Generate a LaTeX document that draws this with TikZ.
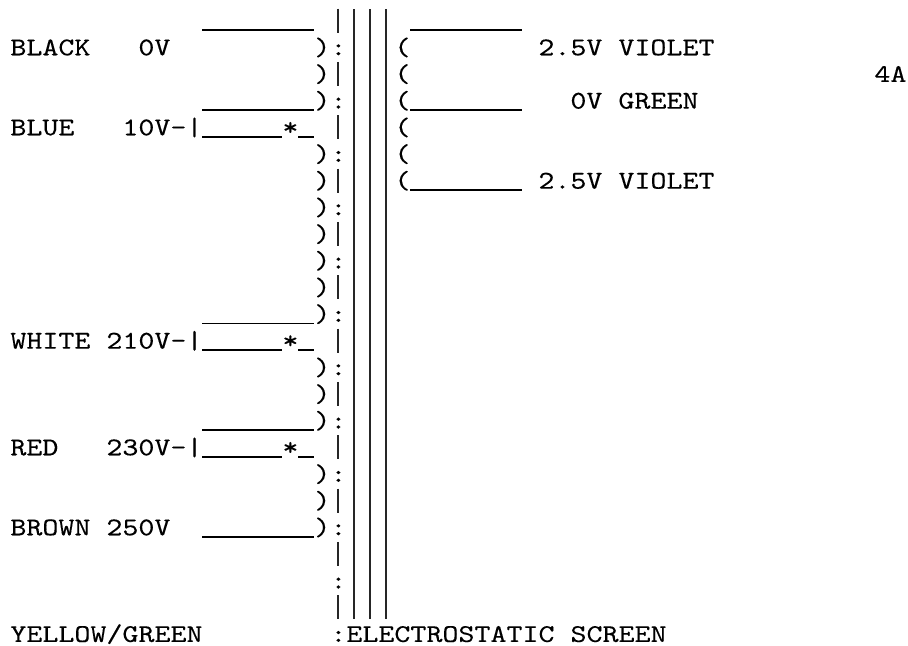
\documentclass[tikz,border=0pt]{standalone}
\usepackage{fontspec}
\newfontfamily\asciifont{lmmono10-regular.otf}[FakeStretch=1.194, FakeBold=0.2]

\begin{document}
\begin{tikzpicture}[x=8pt, y=-13.333pt,
		txt/.style={anchor=base west, inner sep=0pt, font=\asciifont\fontsize{12.77pt}{13.33pt}\selectfont},
		bar/.style={line width=0.75pt, black!85},
		lead/.style={line width=0.75pt, black}]
		\useasboundingbox (-0.625,-1.0725) rectangle (56.125,23.1495);
		% primary side
		\node[txt] (black) at (0,1) {BLACK};
		\node[txt] (black v) at (8,1) {0V};
		\node[txt] (blue) at (0,4) {BLUE};
		\node[txt] (blue v) at (7,4) {10V-|};
		\node[txt] (white) at (0,12) {WHITE};
		\node[txt] (white v) at (6,12) {210V-|};
		\node[txt] (red) at (0,16) {RED};
		\node[txt] (red v) at (6,16) {230V-|};
		\node[txt] (brown) at (0,19) {BROWN};
		\node[txt] (brown v) at (6,19) {250V};
		\node[txt] (earth) at (0,23) {YELLOW/GREEN};
		\foreach \r in {0,3,11,15,19}
			\draw[lead] (12,\r+0.056) -- (19,\r+0.056);
		% taps with the dot
		\foreach \r in {4,12,16} {
			\node[txt] (dot\r) at (17,\r) {*};
			\draw[lead] (12,\r+0.056) -- (17,\r+0.056);
			\draw[lead] (18,\r+0.056) -- (19,\r+0.056);
		}
		\foreach \r in {1,2,3,5,6,7,8,9,10,11,13,14,15,17,18,19}
			\node[txt] (turn p\r) at (19,\r) {)};
		% screen
		\foreach \r in {1,3,...,23}
			\node[txt] (dots\r) at (20,\r) {:};
		\foreach \r in {0,2,...,22}
			\draw[bar] (20.5,\r-0.75) -- (20.5,\r+0.15);
		\coordinate (core top) at (0,-0.735);
		\coordinate (core bottom) at (0,22.14);
		\foreach \c in {21.5,22.5,23.5}
			\draw[bar] (core top -| \c,0) -- (core bottom -| \c,0);
		\node[txt] (screen) at (21,23) {ELECTROSTATIC SCREEN};
		% secondary side
		\foreach \r in {1,...,6}
			\node[txt] (turn s\r) at (24,\r) {(};
		\foreach \r in {0,3,6}
			\draw[lead] (25,\r+0.056) -- (32,\r+0.056);
		\node[txt] (violet a) at (33,1) {2.5V VIOLET};
		\node[txt] (green) at (35,3) {0V GREEN};
		\node[txt] (violet b) at (33,6) {2.5V VIOLET};
		\node[txt] (amps) at (54,2) {4A};
	\end{tikzpicture}
\end{document}
